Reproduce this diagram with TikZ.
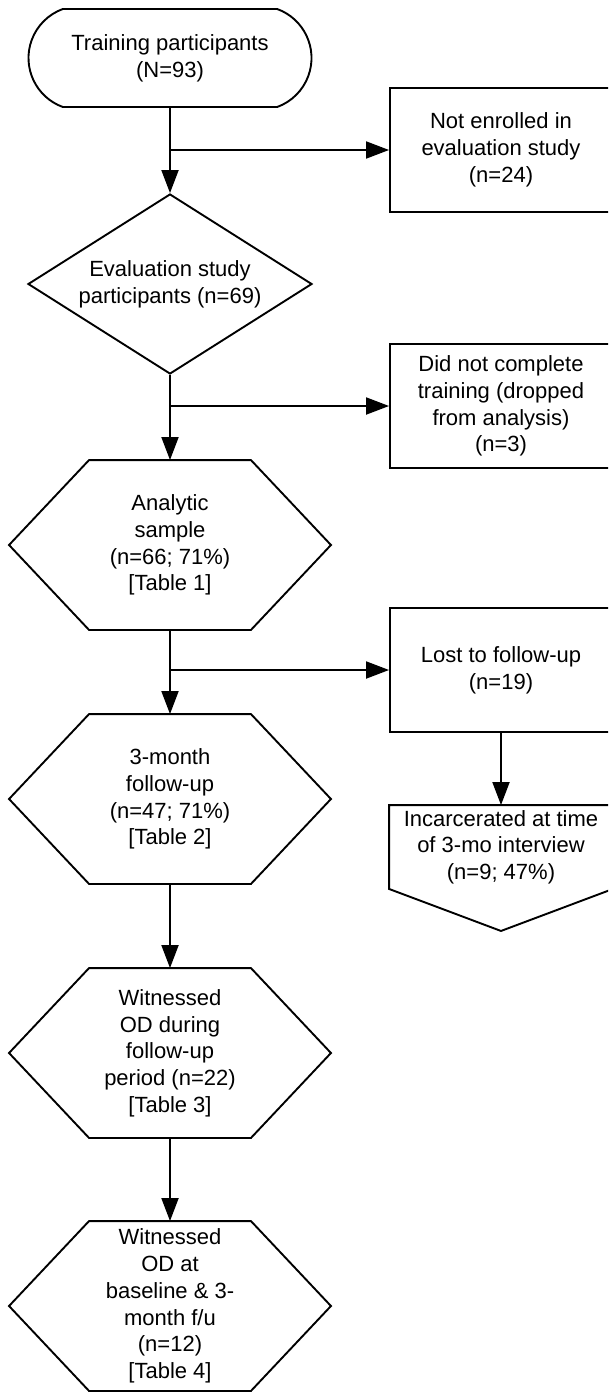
\documentclass[tikz,border=0pt]{standalone}
\usepackage{fontspec}
\setmainfont{Liberation Sans}
\usetikzlibrary{shapes.geometric,shapes.misc,arrows.meta}

\tikzset{
  txt/.style={font=\fontsize{22}{26.7}\selectfont, align=center, inner sep=2pt, line width=1.9pt},
  startbox/.style={txt, draw, rounded rectangle, rounded rectangle arc length=140, minimum width=287pt, minimum height=98pt},
  decbox/.style={txt, draw, diamond, aspect=1.58, inner sep=0pt, minimum width=284pt, minimum height=180pt},
  hexbox/.style={txt, minimum width=160pt, minimum height=168pt},
  sidebox/.style={txt, draw, rectangle, minimum width=222pt, minimum height=124pt},
  arr/.style={line width=1.9pt, -{Triangle[length=23pt,width=17pt]}}
}

\begin{document}
\begin{tikzpicture}[x=1pt,y=-1pt]

\path[use as bounding box, clip] (0,0) rectangle (608,1392);

\node[startbox] (start) at (170,58) {Training participants\\(N=93)};

\node[decbox] (elig) at (170,284) {Evaluation study\\participants (n=69)};

\node[hexbox] (analytic) at (170,545) {Analytic\\sample\\(n=66; 71\%)\\{[Table 1]}};

\node[hexbox] (threemo) at (170,799) {3-month\\follow-up\\(n=47; 71\%)\\{[Table 2]}};

\node[hexbox] (witness) at (170,1053) {Witnessed\\OD during\\follow-up\\period (n=22)\\{[Table 3]}};

\node[hexbox] (baseline) at (170,1306) {Witnessed\\OD at\\baseline \& 3-\\month f/u\\(n=12)\\{[Table 4]}};

\node[sidebox] (notenr) at (501,150) {Not enrolled in\\evaluation study\\(n=24)};

\node[sidebox] (notcomp) at (501,406) {Did not complete\\training (dropped\\from analysis)\\(n=3)};

\node[sidebox] (lost) at (501,670) {Lost to follow-up\\(n=19)};

\node[txt, minimum width=222pt, minimum height=82pt] (incarc) at (501,847) {Incarcerated at time\\of 3-mo interview\\(n=9; 47\%)};

\foreach \n in {analytic,threemo,witness,baseline}
  \draw[line width=1.9pt] (\n.north west) -- (\n.north east) -- ([xshift=80pt]\n.east) -- (\n.south east) -- (\n.south west) -- ([xshift=-80pt]\n.west) -- cycle;

\draw[line width=1.9pt] (incarc.north west) -- (incarc.north east) -- (incarc.south east) -- ([yshift=-42pt]incarc.south) -- (incarc.south west) -- cycle;

\draw[arr] (start) -- (elig);
\draw[arr] (start.south |- notenr.west) -- (notenr.west);

\draw[arr] (elig) -- (analytic);
\draw[arr] (elig.south |- notcomp.west) -- (notcomp.west);

\draw[arr] (analytic) -- (threemo);
\draw[arr] (analytic.south |- lost.west) -- (lost.west);

\draw[arr] (lost) -- (incarc);

\draw[arr] (threemo) -- (witness);

\draw[arr] (witness) -- (baseline);

\end{tikzpicture}
\end{document}
